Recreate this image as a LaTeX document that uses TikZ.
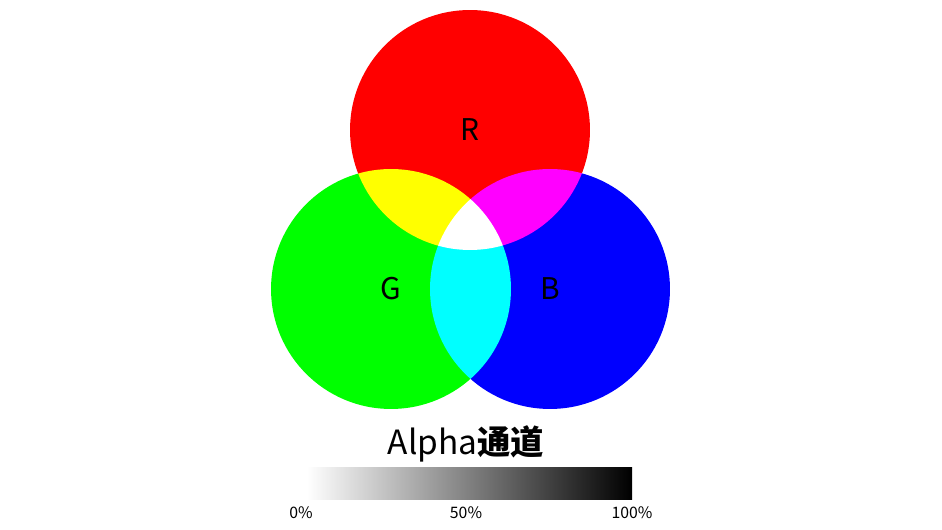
\documentclass[tikz,border=0pt]{standalone}
\usepackage{fontspec}
\setmainfont{Noto Sans CJK SC}
\usetikzlibrary{calc}

\tikzset{
  chan/.style={circle,minimum size=4.8cm,inner sep=0pt},
  chanlabel/.style={font=\fontsize{17}{17}\selectfont},
  pct/.style={font=\fontsize{9}{9}\selectfont}
}

\begin{document}
\begin{tikzpicture}[x=0.02cm,y=0.02cm]
\useasboundingbox (0,0) rectangle (942,530);

% draw the three channels
\begin{scope}[blend group=screen]
\node[chan,fill={rgb,1:red,1;green,0;blue,0}] (red) at (470,400) {};
\node[chan,fill={rgb,1:red,0;green,1;blue,0}] (green) at (391,241) {};
\node[chan,fill={rgb,1:red,0;green,0;blue,1}] (blue) at (550,241) {};
\end{scope}

\node[chanlabel] (lr) at (red) {R};
\node[chanlabel] (lg) at (green) {G};
\node[chanlabel] (lb) at (blue) {B};

% draw alpha bar
\node[font=\fontsize{19}{19}\selectfont] (title) at (466,86) {Alpha\textbf{通道}};
\shade[left color=white,right color=black] (307,30) rectangle (632,62);
\node[pct] (p0) at (301,17) {0\%};
\node[pct] (p50) at (466,17) {50\%};
\node[pct] (p100) at (632,17) {100\%};

\end{tikzpicture}
\end{document}
